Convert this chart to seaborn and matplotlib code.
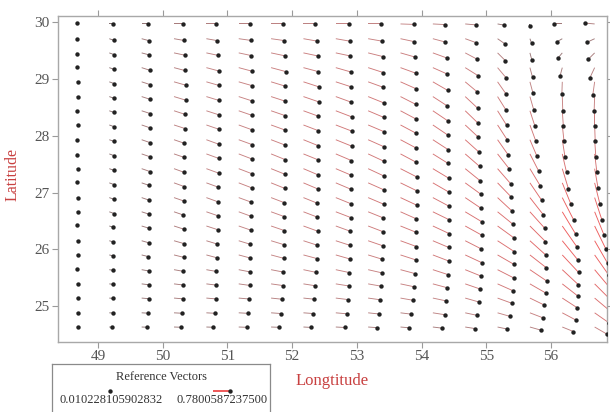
import numpy as np
import matplotlib
matplotlib.use("Agg")
import matplotlib.pyplot as plt
import seaborn as sns
from matplotlib.colors import LinearSegmentedColormap, Normalize

# ---------------- data ----------------
lon = [48.675, 49.175, 49.675, 50.175, 50.675, 51.175, 51.675, 52.175, 52.675,
       53.175, 53.675, 54.175, 54.675, 55.175, 55.675, 56.175, 56.675]
lat = [29.97, 29.71, 29.46, 29.20, 28.95, 28.69, 28.44, 28.19, 27.93, 27.68, 27.42,
       27.17, 26.91, 26.66, 26.41, 26.15, 25.90, 25.64, 25.39, 25.14, 24.88, 24.63]

# current speed, rows from north (top) to south (bottom), columns west -> east
speed = [
    [0.02, 0.12, 0.18, 0.27, 0.30, 0.33, 0.36, 0.36, 0.39, 0.39, 0.39, 0.36, 0.33, 0.21, 0.06, 0.24, 0.30],
    [0.02, 0.15, 0.24, 0.30, 0.33, 0.36, 0.39, 0.42, 0.42, 0.42, 0.42, 0.39, 0.36, 0.27, 0.15, 0.18, 0.24],
    [0.02, 0.15, 0.24, 0.33, 0.36, 0.39, 0.42, 0.45, 0.45, 0.45, 0.45, 0.45, 0.39, 0.33, 0.21, 0.21, 0.27],
    [0.02, 0.15, 0.27, 0.33, 0.39, 0.42, 0.45, 0.45, 0.48, 0.48, 0.48, 0.48, 0.45, 0.39, 0.30, 0.27, 0.33],
    [0.02, 0.15, 0.27, 0.36, 0.39, 0.42, 0.45, 0.48, 0.48, 0.48, 0.51, 0.51, 0.48, 0.45, 0.36, 0.36, 0.39],
    [0.02, 0.15, 0.27, 0.36, 0.39, 0.42, 0.45, 0.48, 0.48, 0.51, 0.51, 0.51, 0.51, 0.48, 0.42, 0.42, 0.42],
    [0.02, 0.15, 0.27, 0.36, 0.39, 0.42, 0.45, 0.48, 0.51, 0.51, 0.51, 0.54, 0.54, 0.51, 0.48, 0.45, 0.45],
    [0.02, 0.15, 0.27, 0.36, 0.39, 0.42, 0.45, 0.48, 0.51, 0.51, 0.54, 0.54, 0.54, 0.54, 0.51, 0.48, 0.48],
    [0.0102, 0.15, 0.27, 0.33, 0.39, 0.42, 0.45, 0.48, 0.51, 0.51, 0.54, 0.54, 0.57, 0.57, 0.54, 0.51, 0.51],
    [0.02, 0.15, 0.27, 0.33, 0.39, 0.42, 0.45, 0.48, 0.51, 0.51, 0.54, 0.54, 0.57, 0.57, 0.57, 0.57, 0.54],
    [0.02, 0.15, 0.27, 0.33, 0.39, 0.42, 0.45, 0.48, 0.51, 0.51, 0.54, 0.57, 0.57, 0.60, 0.60, 0.63, 0.60],
    [0.02, 0.15, 0.24, 0.33, 0.36, 0.42, 0.45, 0.48, 0.48, 0.51, 0.54, 0.57, 0.57, 0.60, 0.63, 0.69, 0.66],
    [0.02, 0.15, 0.24, 0.33, 0.36, 0.39, 0.42, 0.45, 0.48, 0.51, 0.54, 0.54, 0.57, 0.60, 0.66, 0.75, 0.72],
    [0.02, 0.15, 0.24, 0.30, 0.36, 0.39, 0.42, 0.45, 0.48, 0.48, 0.51, 0.54, 0.57, 0.60, 0.66, 0.78, 0.75],
    [0.02, 0.12, 0.24, 0.30, 0.36, 0.39, 0.42, 0.45, 0.45, 0.48, 0.51, 0.54, 0.57, 0.60, 0.66, 0.78, 0.78],
    [0.02, 0.12, 0.24, 0.30, 0.33, 0.36, 0.39, 0.42, 0.45, 0.48, 0.51, 0.51, 0.54, 0.60, 0.66, 0.75, 0.78],
    [0.02, 0.12, 0.21, 0.30, 0.33, 0.36, 0.39, 0.42, 0.45, 0.45, 0.48, 0.51, 0.54, 0.57, 0.63, 0.72, 0.75],
    [0.02, 0.12, 0.21, 0.27, 0.30, 0.33, 0.36, 0.39, 0.42, 0.42, 0.45, 0.48, 0.51, 0.54, 0.60, 0.66, 0.72],
    [0.02, 0.12, 0.21, 0.27, 0.30, 0.33, 0.36, 0.36, 0.39, 0.39, 0.42, 0.45, 0.48, 0.51, 0.54, 0.60, 0.66],
    [0.02, 0.12, 0.21, 0.27, 0.30, 0.30, 0.33, 0.33, 0.36, 0.36, 0.39, 0.39, 0.42, 0.45, 0.48, 0.54, 0.60],
    [0.02, 0.12, 0.18, 0.24, 0.27, 0.27, 0.30, 0.30, 0.33, 0.33, 0.33, 0.36, 0.36, 0.39, 0.42, 0.48, 0.54],
    [0.02, 0.09, 0.15, 0.21, 0.21, 0.24, 0.24, 0.24, 0.27, 0.27, 0.27, 0.27, 0.30, 0.30, 0.33, 0.36, 0.42],
]

# direction the current flows to, degrees counter-clockwise from east
direction = [
    [ 90,   0,   0,   0,   0,   0,   0,   0,   0,   0,  -2,  -3,  -5, -10, -90, 180, 175],
    [-90, -20, -15, -10, -10,  -8,  -8, -10, -10, -10, -12, -15, -20, -35, -70, -150, -155],
    [-90, -20, -15, -12, -12, -12, -12, -12, -12, -14, -16, -20, -28, -45, -75, -130, -135],
    [ 90, -20, -18, -15, -15, -15, -15, -15, -16, -18, -20, -24, -32, -50, -75, -105, -115],
    [  0, -20, -18, -16, -16, -16, -17, -18, -18, -20, -24, -30, -40, -55, -75, -92, -98],
    [  0, -20, -18, -17, -17, -18, -18, -19, -20, -22, -27, -33, -43, -58, -74, -88, -92],
    [-90, -20, -18, -18, -18, -19, -19, -20, -21, -23, -28, -34, -44, -58, -72, -86, -90],
    [  0, -20, -19, -18, -19, -20, -20, -21, -21, -23, -28, -34, -43, -57, -70, -84, -88],
    [  0, -20, -19, -19, -20, -20, -21, -22, -22, -24, -28, -33, -42, -55, -67, -81, -86],
    [-90, -20, -19, -19, -20, -21, -22, -22, -23, -25, -28, -32, -41, -52, -63, -77, -83],
    [  0, -20, -19, -20, -20, -21, -22, -23, -23, -25, -27, -31, -39, -49, -59, -73, -80],
    [ 90, -20, -19, -20, -20, -21, -22, -23, -23, -24, -26, -30, -36, -46, -56, -68, -76],
    [  0, -20, -19, -19, -20, -20, -21, -22, -22, -23, -25, -28, -34, -43, -52, -63, -72],
    [  0, -20, -18, -19, -19, -20, -20, -21, -21, -22, -24, -26, -31, -39, -48, -59, -68],
    [ 90, -18, -17, -18, -18, -19, -19, -20, -20, -21, -22, -25, -29, -36, -45, -55, -64],
    [  0, -16, -16, -16, -17, -17, -17, -18, -18, -19, -20, -23, -27, -33, -42, -51, -60],
    [  0, -14, -14, -14, -15, -15, -15, -15, -16, -17, -18, -21, -25, -30, -38, -47, -55],
    [ 90, -10, -10, -10, -10, -11, -11, -12, -12, -13, -15, -18, -22, -27, -34, -43, -50],
    [  0,  -7,  -7,  -7,  -7,  -8,  -8,  -9,  -9, -10, -12, -15, -19, -24, -30, -38, -45],
    [  0,  -5,  -5,  -5,  -5,  -5,  -6,  -6,  -7,  -8, -10, -12, -16, -20, -26, -33, -40],
    [  0,  -3,  -3,  -3,  -3,  -3,  -4,  -4,  -5,  -6,  -7,  -9, -12, -16, -21, -28, -35],
    [  0,  -2,  -2,  -2,  -2,  -2,  -2,  -3,  -3,  -4,  -5,  -7,  -9, -12, -16, -22, -30],
]

x_ticks = [49, 50, 51, 52, 53, 54, 55, 56]
y_ticks = [25, 26, 27, 28, 29, 30]
ref_values = [0.010228105902832, 0.7800587237500]
ref_labels = ["0.010228105902832", "0.7800587237500"]
legend_title = "Reference Vectors"
x_label = "Longtitude"
y_label = "Latitude"

# ---------------- styling ----------------
sns.set_theme(style="white")
plt.rcParams["font.family"] = ["Liberation Serif", "DejaVu Serif"]

W, H = 610, 412
fig = plt.figure(figsize=(W / 100, H / 100), dpi=100)
ax = fig.add_axes([58 / W, 70 / H, 549 / W, 326 / H])
ax.set_xlim(48.382, 56.866)
ax.set_ylim(24.366, 30.11)

LON, LAT = np.meshgrid(lon, lat)
S = np.array(speed)
D = np.deg2rad(np.array(direction))
U = S * np.cos(D)
V = S * np.sin(D)

px_per_unit = 26 / 0.78
cmap = LinearSegmentedColormap.from_list("rv", ["#6a6a6a", "#c48484", "#ee5c5c"])
norm = Normalize(0, 0.78)

ax.quiver(LON, LAT, U, V, S, cmap=cmap, norm=norm, angles="uv",
          scale_units="dots", scale=1 / px_per_unit, units="dots", width=0.9,
          headwidth=1, headlength=0, headaxislength=0, pivot="tail", zorder=2)

# arrow heads: black dots at vector tips
pts = ax.transData.transform(np.column_stack([LON.ravel(), LAT.ravel()]))
tips = ax.transData.inverted().transform(
    pts + np.column_stack([U.ravel(), V.ravel()]) * px_per_unit)
sns.scatterplot(x=tips[:, 0], y=tips[:, 1], ax=ax, color="#222222", s=10,
                linewidth=0, zorder=3, legend=False)

ax.set_xticks(x_ticks)
ax.set_yticks(y_ticks)
ax.tick_params(direction="out", top=True, right=True, bottom=True, left=True,
               length=4, width=0.8, color="#9a9a9a", labelcolor="#555555",
               labelsize=11, pad=2)
for sp in ax.spines.values():
    sp.set_color("#a8a8a8")
    sp.set_linewidth(1.0)

ax.set_xlabel(x_label, color="#c84040", fontsize=12)
ax.xaxis.set_label_coords(0.5, -0.095)
ax.set_ylabel(y_label, color="#c84040", fontsize=11.5)
ax.yaxis.set_label_coords(-0.068, 0.515)

# ---------------- reference vectors box ----------------
lax = fig.add_axes([52 / W, -4 / H, 218 / W, 52 / H])
lax.set_xlim(0, 1)
lax.set_ylim(0, 1)
lax.set_xticks([])
lax.set_yticks([])
for sp in lax.spines.values():
    sp.set_color("#8a8a8a")
    sp.set_linewidth(0.9)
lax.text(0.5, 0.75, legend_title, ha="center", va="center", fontsize=9,
         color="#333333")
ref_x = [0.266, 0.74]
ref_y = [0.48, 0.48]
key_px_per_unit = 17 / 0.78
RU = np.array(ref_values)
RV = np.zeros(2)
lax.quiver(ref_x, ref_y, RU, RV, RU, cmap=cmap, norm=norm, angles="uv",
           scale_units="dots", scale=1 / key_px_per_unit, units="dots", width=1.3,
           headwidth=1, headlength=0, headaxislength=0, pivot="tail", zorder=2)
kp = lax.transData.transform(np.column_stack([ref_x, ref_y]))
ktips = lax.transData.inverted().transform(
    kp + np.column_stack([RU, RV]) * key_px_per_unit)
sns.scatterplot(x=ktips[:, 0], y=ktips[:, 1], ax=lax, color="#222222", s=10,
                linewidth=0, zorder=3, legend=False)
lax.set_xlim(0, 1)
lax.set_ylim(0, 1)
lax.set_xlabel("")
lax.set_ylabel("")
for xx, lbl in zip([0.27, 0.78], ref_labels):
    lax.text(xx, 0.3, lbl, ha="center", va="center", fontsize=9, color="#333333")

fig.savefig("out.png", dpi=100)
